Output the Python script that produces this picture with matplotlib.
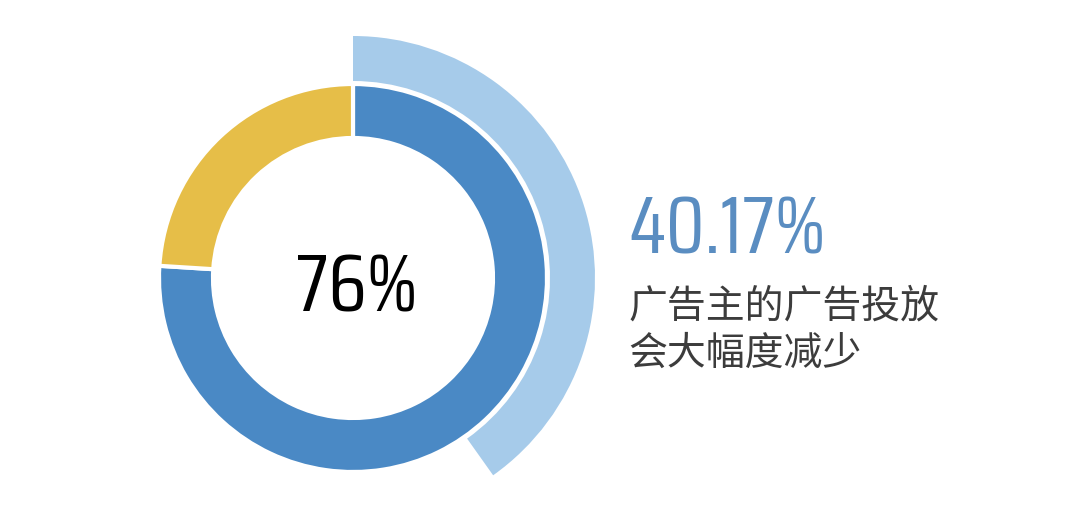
import matplotlib
matplotlib.use("Agg")
import matplotlib.pyplot as plt

# data
inner_labels = ["减少", "其他"]
inner_values = [76, 24]
outer_values = [40.17, 100 - 40.17]
center_label = "76%"
side_value = "40.17%"
side_text = "广告主的广告投放\n会大幅度减少"

W, H = 1080, 516
fig = plt.figure(figsize=(W / 100, H / 100), dpi=100)
ax = fig.add_axes([0, 0, 1, 1])

cx, cy = 353, H - 278

ax.pie(inner_values, startangle=90, counterclock=False,
       colors=["#4A89C5", "#E6BE48"], radius=194, center=(cx, cy),
       wedgeprops=dict(width=54, edgecolor="white", linewidth=3))
wedges, _ = ax.pie(outer_values, startangle=90, counterclock=False,
                   colors=["#A6CBEA", "white"], radius=242, center=(cx, cy),
                   wedgeprops=dict(width=45, edgecolor="white", linewidth=0))
wedges[1].set_visible(False)

ax.set_xlim(0, W)
ax.set_ylim(0, H)
ax.set_aspect("equal")
ax.axis("off")

narrow = ["Saira Condensed", "DejaVu Sans"]
ax.text(cx + 4, H - 289, center_label, ha="center", va="center",
        fontsize=58, color="black", family=narrow)
ax.text(628, H - 232, side_value, ha="left", va="center",
        fontsize=58, color="#5A8DC1", family=narrow)
ax.text(628, H - 330, side_text, ha="left", va="center",
        fontsize=28, color="#3c3c3c", linespacing=1.25,
        family=["Noto Sans CJK SC", "DejaVu Sans"], fontweight="light")

fig.savefig("out.png", dpi=100)
